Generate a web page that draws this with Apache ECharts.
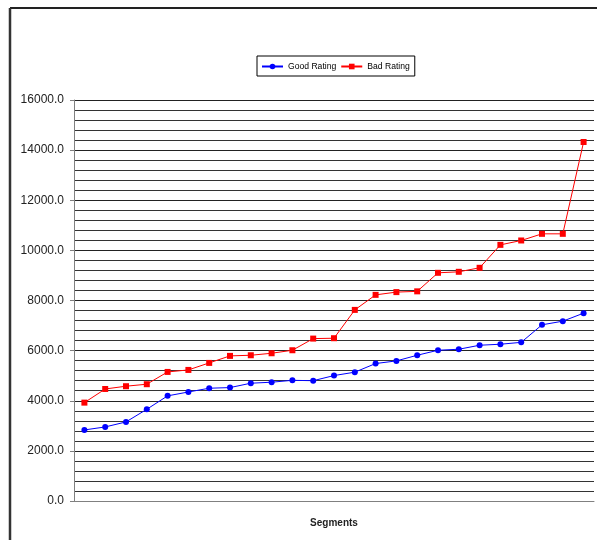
<!DOCTYPE html>
<html>
<head>
<meta charset="utf-8">
<script src="https://cdn.jsdelivr.net/npm/echarts@6/dist/echarts.min.js"></script>
<style>
  html, body { margin: 0; padding: 0; background: #fff; }
  #chart { width: 597px; height: 540px; }
</style>
</head>
<body>
<div id="chart"></div>
<script>
// Segments along the x axis (unlabelled on the chart)
const segments = [
  'Seg 1', 'Seg 2', 'Seg 3', 'Seg 4', 'Seg 5', 'Seg 6', 'Seg 7', 'Seg 8', 'Seg 9', 'Seg 10',
  'Seg 11', 'Seg 12', 'Seg 13', 'Seg 14', 'Seg 15', 'Seg 16', 'Seg 17', 'Seg 18', 'Seg 19', 'Seg 20',
  'Seg 21', 'Seg 22', 'Seg 23', 'Seg 24', 'Seg 25'
];

const goodRating = [
  2835, 2955, 3155, 3660, 4195, 4350, 4500, 4525, 4700, 4740,
  4815, 4800, 5005, 5140, 5485, 5590, 5815, 6015, 6055, 6215,
  6255, 6330, 7030, 7175, 7495
];

const badRating = [
  3925, 4470, 4580, 4660, 5150, 5230, 5510, 5790, 5815, 5895,
  6015, 6480, 6495, 7625, 8225, 8335, 8365, 9105, 9145, 9305,
  10220, 10395, 10660, 10660, 14325
];

const seriesNames = ['Good Rating', 'Bad Rating'];

const yMin = 0;
const yMax = 16000;
const yStep = 2000;

const chart = echarts.init(document.getElementById('chart'), null, { renderer: 'canvas' });

chart.setOption({
  animation: false,
  backgroundColor: '#ffffff',
  textStyle: { fontFamily: 'Liberation Sans, Arial, sans-serif' },
  graphic: [
    { type: 'line', shape: { x1: 10, y1: 8, x2: 597, y2: 8 }, style: { stroke: '#222', lineWidth: 2 } },
    { type: 'line', shape: { x1: 10, y1: 8, x2: 10, y2: 540 }, style: { stroke: '#333', lineWidth: 2.5 } }
  ],
  legend: {
    data: seriesNames,
    left: 257,
    top: 56,
    itemGap: 4,
    itemWidth: 21,
    itemHeight: 7,
    padding: [6, 5, 5, 4],
    borderColor: '#000',
    borderWidth: 1,
    textStyle: { fontSize: 8.6, color: '#000', fontFamily: 'Liberation Sans, Arial, sans-serif' }
  },
  grid: { left: 74, right: 3, top: 100, bottom: 39, containLabel: false },
  xAxis: {
    type: 'category',
    data: segments,
    boundaryGap: true,
    name: 'Segments',
    nameLocation: 'middle',
    nameGap: 17,
    nameTextStyle: { fontSize: 10, fontWeight: 'bold', color: '#222' },
    axisLine: { show: true, lineStyle: { color: '#808080', width: 1 } },
    axisTick: { show: false },
    axisLabel: { show: false },
    splitLine: { show: false }
  },
  yAxis: {
    type: 'value',
    min: yMin,
    max: yMax,
    interval: yStep,
    axisLine: { show: true, lineStyle: { color: '#808080', width: 1 } },
    axisTick: { show: true, length: 4, lineStyle: { color: '#808080' } },
    axisLabel: {
      fontSize: 12,
      color: '#222',
      margin: 10,
      padding: [3, 0, 0, 0],
      formatter: v => v.toFixed(1)
    },
    splitLine: { show: true, lineStyle: { color: '#222', width: 1 } },
    minorTick: { show: false, splitNumber: 5 },
    minorSplitLine: { show: true, lineStyle: { color: '#333', width: 1 } }
  },
  series: [
    {
      name: seriesNames[0],
      type: 'line',
      data: goodRating,
      symbol: 'circle',
      symbolSize: 6,
      showAllSymbol: true,
      itemStyle: { color: '#0000ff' },
      lineStyle: { color: '#0000ff', width: 1 }
    },
    {
      name: seriesNames[1],
      type: 'line',
      data: badRating,
      symbol: 'rect',
      symbolSize: 6,
      showAllSymbol: true,
      itemStyle: { color: '#ff0000' },
      lineStyle: { color: '#ff0000', width: 1 }
    }
  ]
});
</script>
</body>
</html>
